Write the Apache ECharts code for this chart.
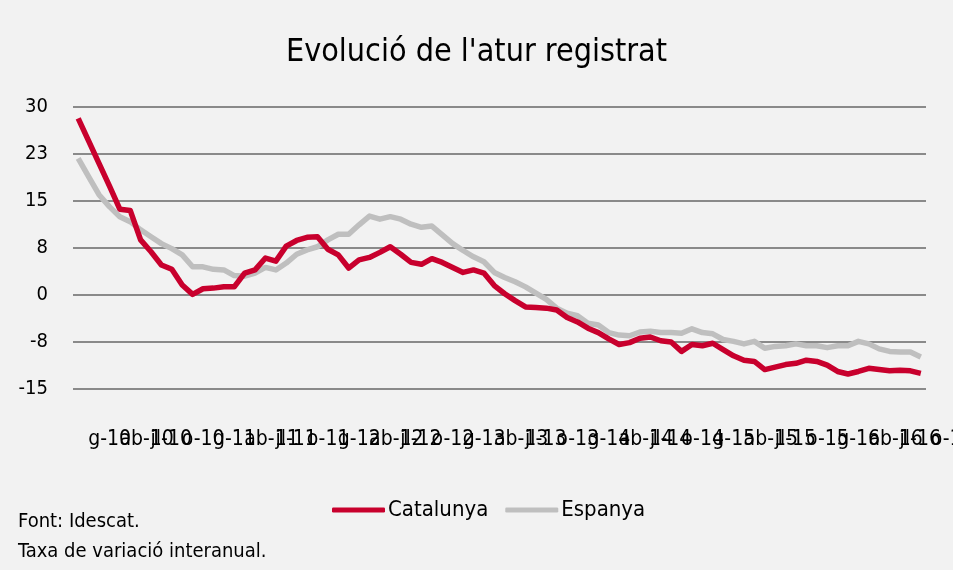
<!DOCTYPE html>
<html>
<head>
<meta charset="utf-8">
<script src="https://cdn.jsdelivr.net/npm/echarts@6/dist/echarts.min.js"></script>
<style>
  html, body { margin: 0; padding: 0; background: #f2f2f2; }
  #chart { width: 953px; height: 570px; }
</style>
</head>
<body>
<div id="chart"></div>
<script>
// mesos en abreviatura catalana, de g-10 a o-16
const months = ['g', 'f', 'mç', 'ab', 'mg', 'jn', 'jl', 'ag', 's', 'o', 'n', 'd']
const years = ['10', '11', '12', '13', '14', '15', '16']
const categories = []
years.forEach(y => months.forEach(m => categories.push(m + '-' + y)))
categories.length = 82

const catalunya = [
  28.2, 24.6, 21.0, 17.4, 13.7, 13.5, 8.8, 6.9, 4.8, 4.1,
  1.6, 0.1, 1.0, 1.1, 1.3, 1.3, 3.5, 4.0, 5.9, 5.4,
  7.8, 8.7, 9.2, 9.3, 7.3, 6.4, 4.3, 5.6, 6.0, 6.8,
  7.7, 6.5, 5.2, 4.9, 5.8, 5.2, 4.4, 3.6, 4.0, 3.5,
  1.5, 0.2, -0.9, -1.9, -2.0, -2.1, -2.4, -3.6, -4.3, -5.3,
  -6.0, -7.0, -7.9, -7.6, -6.9, -6.7, -7.3, -7.5, -9.0, -7.9,
  -8.1, -7.7, -8.7, -9.7, -10.4, -10.6, -11.9, -11.5, -11.1, -10.9,
  -10.4, -10.6, -11.2, -12.2, -12.6, -12.2, -11.7, -11.9, -12.1, -12.0,
  -12.1, -12.5
]

const espanya = [
  21.8, 18.9, 16.0, 14.1, 12.5, 11.7, 10.4, 9.3, 8.2, 7.4,
  6.4, 4.5, 4.5, 4.1, 4.0, 3.1, 3.0, 3.5, 4.4, 4.0,
  5.1, 6.5, 7.2, 7.7, 8.8, 9.7, 9.7, 11.2, 12.6, 12.1,
  12.5, 12.1, 11.3, 10.8, 11.0, 9.6, 8.2, 7.1, 6.1, 5.3,
  3.6, 2.8, 2.1, 1.3, 0.3, -0.7, -2.1, -2.9, -3.3, -4.5,
  -4.8, -6.0, -6.4, -6.5, -5.9, -5.8, -6.0, -6.0, -6.1, -5.4,
  -6.0, -6.2, -7.1, -7.4, -7.8, -7.4, -8.5, -8.2, -8.1, -7.8,
  -8.1, -8.1, -8.4, -8.1, -8.1, -7.4, -7.8, -8.6, -9.0, -9.1,
  -9.1, -9.9
]

const fontFamily = '"DejaVu Sans Condensed", "Noto Sans", sans-serif'

const chart = echarts.init(document.getElementById('chart'), null, { renderer: 'canvas' })

const option = {
  backgroundColor: '#f2f2f2',
  animation: false,
  textStyle: { fontFamily: fontFamily },
  title: {
    text: "Evolució de l'atur registrat",
    left: 'center',
    top: 32,
    textStyle: { fontFamily: fontFamily, fontSize: 32, fontWeight: 'normal', color: '#000' }
  },
  legend: {
    top: 494,
    left: 327,
    icon: 'roundRect',
    itemWidth: 53,
    itemHeight: 5,
    itemGap: 17,
    textStyle: { fontFamily: fontFamily, fontSize: 22, color: '#000', padding: [0, 0, 0, -2] },
    data: ['Catalunya', 'Espanya']
  },
  grid: {
    left: 73,
    right: 27,
    top: 107,
    bottom: 181,
    outerBoundsMode: 'none'
  },
  xAxis: {
    type: 'category',
    data: categories,
    boundaryGap: true,
    axisLine: { show: false },
    axisTick: { show: false },
    axisLabel: {
      // una etiqueta cada tres mesos, sense amagar les que se solapen
      interval: 0,
      formatter: (val, idx) => (idx % 3 === 0 ? val : ''),
      hideOverlap: false,
      margin: 40,
      align: 'left',
      padding: [0, 0, 0, 10],
      fontSize: 21,
      color: '#000',
      fontFamily: fontFamily
    }
  },
  yAxis: {
    type: 'value',
    min: -15,
    max: 30,
    interval: 7.5,
    axisLine: { show: false },
    axisTick: { show: false },
    axisLabel: {
      margin: 25,
      fontSize: 20,
      color: '#000',
      fontFamily: fontFamily,
      formatter: v => String(Math.sign(v) * Math.round(Math.abs(v)))
    },
    splitLine: { lineStyle: { color: '#8a8a8a', width: 2 } }
  },
  graphic: [
    {
      type: 'text',
      left: 18,
      top: 512,
      style: { text: 'Font: Idescat.', fontSize: 20, fontFamily: fontFamily, fill: '#000' }
    },
    {
      type: 'text',
      left: 18,
      top: 542,
      style: { text: 'Taxa de variació interanual.', fontSize: 20, fontFamily: fontFamily, fill: '#000' }
    }
  ],
  series: [
    {
      name: 'Espanya',
      type: 'line',
      data: espanya,
      symbol: 'none',
      z: 2,
      itemStyle: { color: '#bfbfbf' },
      lineStyle: { color: '#bfbfbf', width: 5.5, join: 'round' }
    },
    {
      name: 'Catalunya',
      type: 'line',
      data: catalunya,
      symbol: 'none',
      z: 3,
      itemStyle: { color: '#c8002d' },
      lineStyle: { color: '#c8002d', width: 5.5, join: 'round' }
    }
  ]
}

chart.setOption(option)
window.addEventListener('resize', () => chart.resize())
</script>
</body>
</html>
